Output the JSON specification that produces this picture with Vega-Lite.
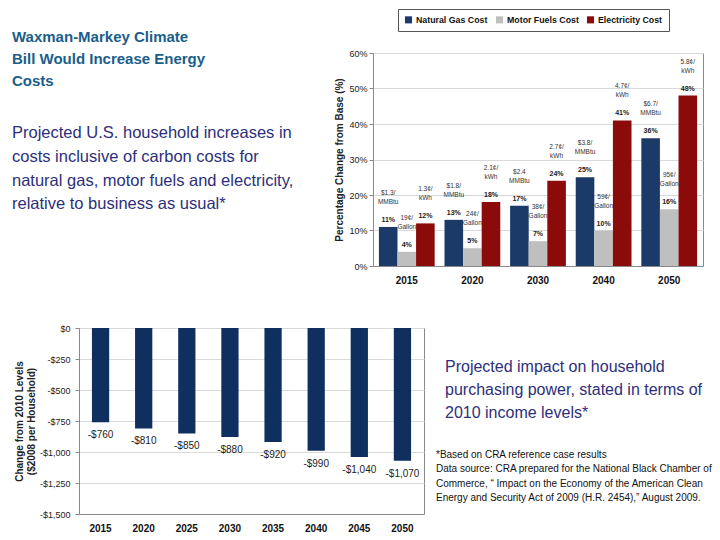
{
  "$schema": "https://vega.github.io/schema/vega-lite/v6.json",
  "background": "white",
  "padding": {"left": 12, "top": 8, "right": 5, "bottom": 5},
  "config": {
    "font": "Liberation Sans",
    "view": {"stroke": null},
    "title": {"offset": 0}
  },
  "spacing": 275,
  "bounds": "flush",
  "vconcat": [
    {
      "spacing": 12,
      "bounds": "flush",
      "hconcat": [
        {
          "width": 282,
          "height": 200,
          "data": {"values": [{}]},
          "mark": {"type": "text", "text": ""},
          "encoding": {},
          "title": {
            "text": ["Waxman-Markey Climate", "Bill Would Increase Energy", "Costs"],
            "subtitle": ["Projected U.S. household increases in", "costs inclusive of carbon costs for", "natural gas, motor fuels and electricity,", "relative to business as usual*"],
            "anchor": "start",
            "frame": "group",
            "orient": "top",
            "dx": -67,
            "dy": 164,
            "font": "Liberation Sans",
            "fontSize": 15,
            "fontWeight": "bold",
            "color": "#1A5E8A",
            "lineHeight": 22,
            "subtitleFont": "Liberation Sans",
            "subtitleFontSize": 16.5,
            "subtitleFontWeight": "normal",
            "subtitleColor": "#2D2F7A",
            "subtitleLineHeight": 23.7,
            "subtitlePadding": 36
          }
        },
        {
          "width": 330,
          "height": 213,
          "view": {"stroke": "#8a8a8a"},
          "data": {"values": [
            {"year": "2015", "cost": "Natural Gas Cost", "pct": 0.11, "price": "$1.3/\nMMBtu"},
            {"year": "2015", "cost": "Motor Fuels Cost", "pct": 0.04, "price": "19¢/\nGallon"},
            {"year": "2015", "cost": "Electricity Cost", "pct": 0.12, "price": "1.3¢/\nkWh"},
            {"year": "2020", "cost": "Natural Gas Cost", "pct": 0.13, "price": "$1.8/\nMMBtu"},
            {"year": "2020", "cost": "Motor Fuels Cost", "pct": 0.05, "price": "24¢/\nGallon"},
            {"year": "2020", "cost": "Electricity Cost", "pct": 0.18, "price": "2.1¢/\nkWh"},
            {"year": "2030", "cost": "Natural Gas Cost", "pct": 0.17, "price": "$2.4\nMMBtu"},
            {"year": "2030", "cost": "Motor Fuels Cost", "pct": 0.07, "price": "38¢/\nGallon"},
            {"year": "2030", "cost": "Electricity Cost", "pct": 0.24, "price": "2.7¢/\nkWh"},
            {"year": "2040", "cost": "Natural Gas Cost", "pct": 0.25, "price": "$3.8/\nMMBtu"},
            {"year": "2040", "cost": "Motor Fuels Cost", "pct": 0.10, "price": "59¢/\nGallon"},
            {"year": "2040", "cost": "Electricity Cost", "pct": 0.41, "price": "4.7¢/\nkWh"},
            {"year": "2050", "cost": "Natural Gas Cost", "pct": 0.36, "price": "$6.7/\nMMBtu"},
            {"year": "2050", "cost": "Motor Fuels Cost", "pct": 0.16, "price": "95¢/\nGallon"},
            {"year": "2050", "cost": "Electricity Cost", "pct": 0.48, "price": "5.8¢/\nkWh"}
          ]},
          "encoding": {
            "x": {
              "field": "year", "type": "nominal",
              "scale": {"paddingInner": 0.15, "paddingOuter": 0.09},
              "axis": {"title": null, "labelAngle": 0, "labelFontSize": 10, "labelFontWeight": "bold", "labelColor": "#111", "ticks": false, "labelPadding": 9, "domainColor": "#8a8a8a"}
            },
            "xOffset": {
              "field": "cost", "type": "nominal",
              "scale": {"domain": ["Natural Gas Cost", "Motor Fuels Cost", "Electricity Cost"], "paddingInner": 0, "paddingOuter": 0}
            },
            "y": {
              "field": "pct", "type": "quantitative",
              "scale": {"domain": [0, 0.6]},
              "axis": {
                "values": [0, 0.1, 0.2, 0.3, 0.4, 0.5, 0.6], "format": ".0%",
                "labelFontSize": 9, "labelColor": "#222", "tickSize": 4, "labelPadding": 2,
                "tickColor": "#8a8a8a", "domainColor": "#8a8a8a", "gridColor": "#d9d9d9",
                "title": "Percentage Change from Base (%)", "titleFontSize": 10, "titleFontWeight": "bold", "titleColor": "#222", "titlePadding": 4
              }
            }
          },
          "layer": [
            {
              "mark": {"type": "bar"},
              "encoding": {
                "color": {
                  "field": "cost", "type": "nominal",
                  "scale": {"domain": ["Natural Gas Cost", "Motor Fuels Cost", "Electricity Cost"], "range": ["#1B3A68", "#BFBFBF", "#8B0A0A"]},
                  "legend": {
                    "title": null, "orient": "none", "legendX": 319, "legendY": -44, "direction": "horizontal",
                    "strokeColor": "#555", "fillColor": "white", "padding": 6, "symbolType": "square", "symbolSize": 50,
                    "labelFontSize": 8.8, "labelFontWeight": "bold", "labelColor": "#111", "columnPadding": 7, "labelOffset": 3
                  }
                }
              }
            },
            {
              "mark": {"type": "text", "baseline": "bottom", "dy": -4, "fontSize": 7, "fontWeight": "bold", "color": "#222"},
              "encoding": {"text": {"field": "pct", "type": "quantitative", "format": ".0%"}}
            },
            {
              "mark": {"type": "text", "baseline": "bottom", "dy": -31, "fontSize": 6.5, "lineHeight": 9, "lineBreak": "\n", "color": "#333"},
              "encoding": {"text": {"field": "price", "type": "nominal"}}
            }
          ]
        }
      ]
    },
    {
      "spacing": 12,
      "bounds": "flush",
      "hconcat": [
        {
          "width": 345,
          "height": 186,
          "view": {"stroke": "#8a8a8a"},
          "data": {"values": [
            {"year": "2015", "change": -760, "label": "-$760"},
            {"year": "2020", "change": -810, "label": "-$810"},
            {"year": "2025", "change": -850, "label": "-$850"},
            {"year": "2030", "change": -880, "label": "-$880"},
            {"year": "2035", "change": -920, "label": "-$920"},
            {"year": "2040", "change": -990, "label": "-$990"},
            {"year": "2045", "change": -1040, "label": "-$1,040"},
            {"year": "2050", "change": -1070, "label": "-$1,070"}
          ]},
          "encoding": {
            "x": {
              "field": "year", "type": "nominal",
              "scale": {"paddingInner": 0.6, "paddingOuter": 0.3},
              "axis": {"title": null, "labelAngle": 0, "labelFontSize": 10, "labelFontWeight": "bold", "labelColor": "#111", "ticks": false, "labelPadding": 9, "domainColor": "#8a8a8a"}
            },
            "y": {
              "field": "change", "type": "quantitative",
              "scale": {"domain": [-1500, 0]},
              "axis": {
                "values": [-1500, -1250, -1000, -750, -500, -250, 0],
                "labelExpr": "datum.value == 0 ? '$0' : '-$' + format(-datum.value, ',')",
                "labelFontSize": 9, "labelColor": "#222", "tickSize": 4, "labelPadding": 5,
                "tickColor": "#8a8a8a", "domainColor": "#8a8a8a", "gridColor": "#d9d9d9",
                "title": ["Change from 2010 Levels", "($2008 per Household)"],
                "titleFontSize": 10, "titleFontWeight": "bold", "titleColor": "#222", "titlePadding": 3
              }
            }
          },
          "layer": [
            {"mark": {"type": "bar", "color": "#0F2F5F"}},
            {
              "mark": {"type": "text", "baseline": "top", "dy": 8, "fontSize": 10, "color": "#222"},
              "encoding": {"text": {"field": "label", "type": "nominal"}}
            }
          ]
        },
        {
          "spacing": 0,
          "bounds": "flush",
          "vconcat": [
            {
              "width": 270,
              "height": 80,
              "data": {"values": [{}]},
              "mark": {"type": "text", "text": ""},
              "encoding": {},
              "title": {
                "text": ["Projected impact on household", "purchasing power, stated in terms of", "2010 income levels*"],
                "anchor": "start", "frame": "group", "orient": "top",
                "dx": 9, "dy": 97,
                "font": "Liberation Sans", "fontSize": 16, "fontWeight": "normal", "color": "#2D2F7A", "lineHeight": 23
              }
            },
            {
              "width": 270,
              "height": 80,
              "data": {"values": [{}]},
              "mark": {"type": "text", "text": ""},
              "encoding": {},
              "title": {
                "text": ["*Based on CRA reference case results", "Data source: CRA prepared for the National Black Chamber of", "Commerce, \u201c Impact on the Economy of the American Clean", "Energy and Security Act of 2009 (H.R. 2454),\u201d August 2009."],
                "anchor": "start", "frame": "group", "orient": "top",
                "dx": 0, "dy": 99,
                "font": "Liberation Sans", "fontSize": 10, "fontWeight": "normal", "color": "#111", "lineHeight": 14.5
              }
            }
          ]
        }
      ]
    }
  ]
}
